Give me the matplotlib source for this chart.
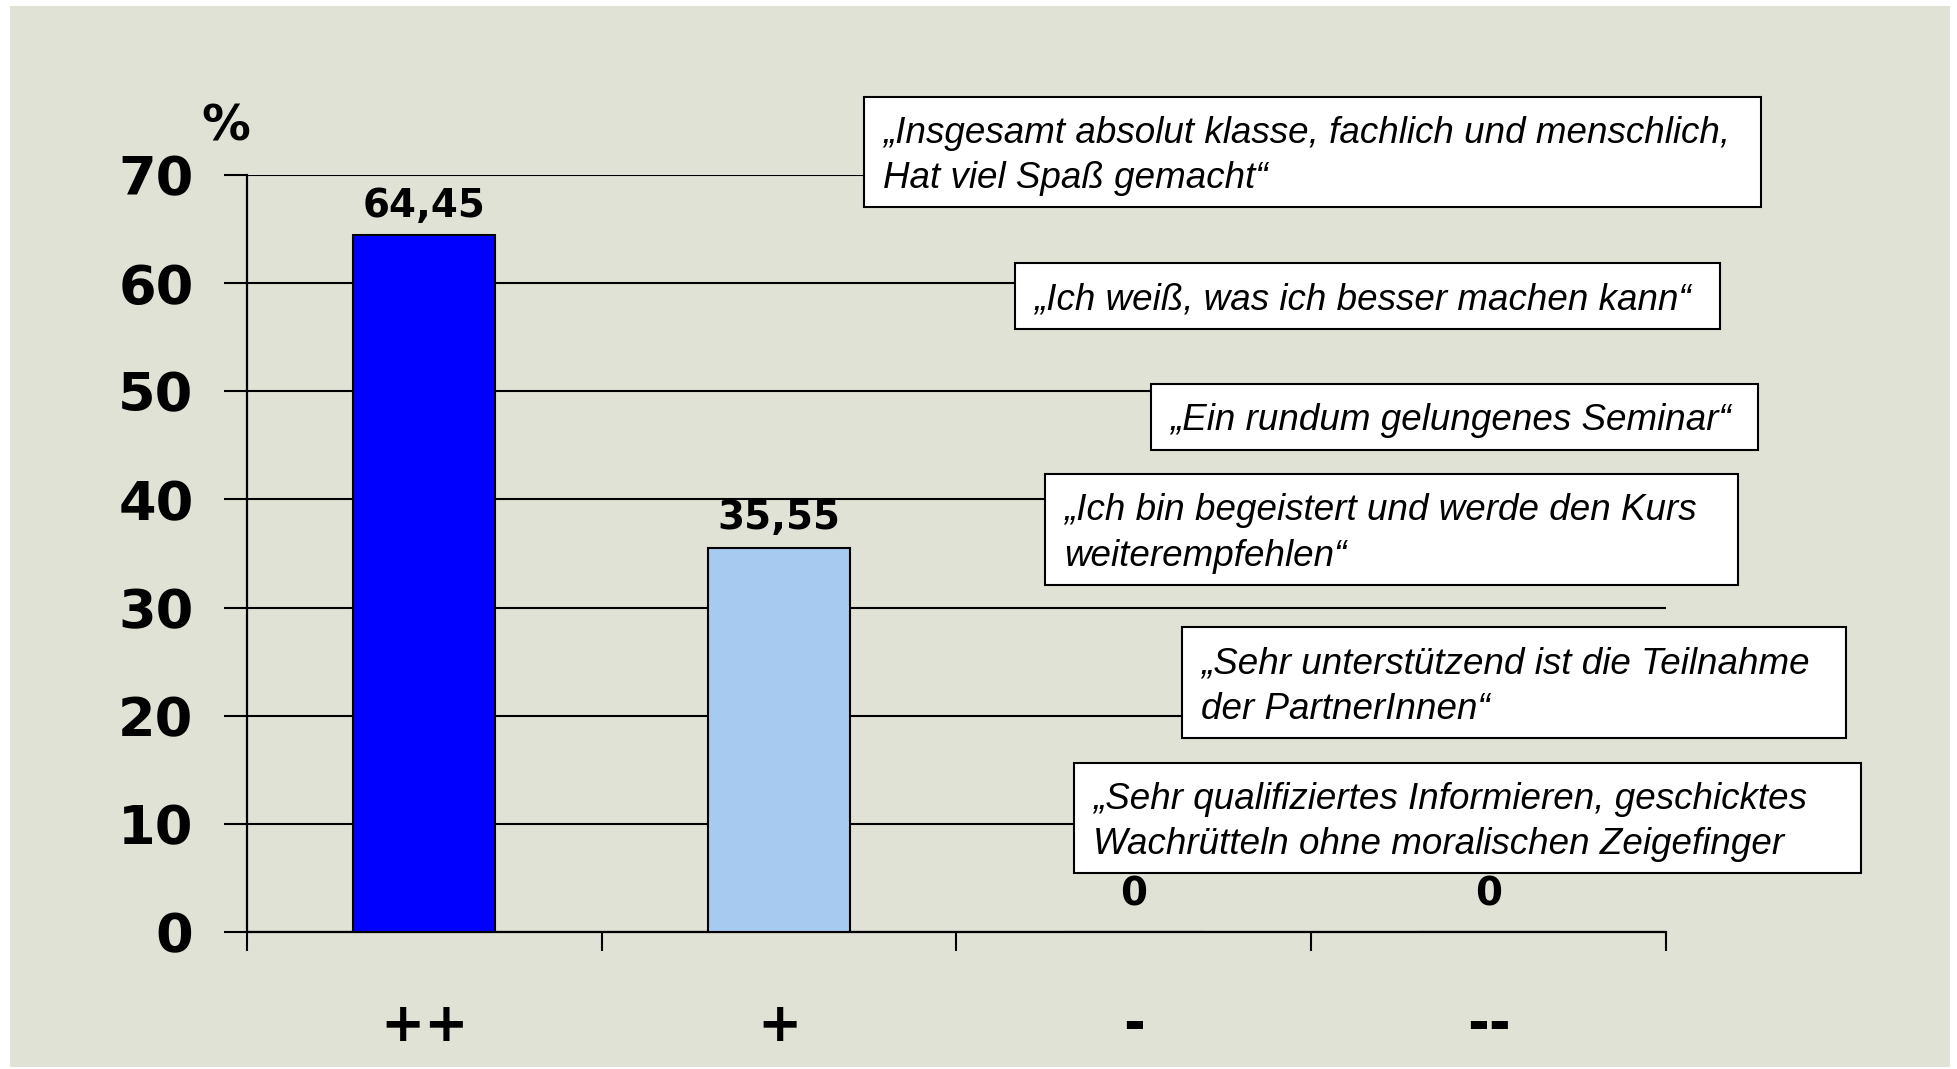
import matplotlib
matplotlib.use("Agg")
import matplotlib.pyplot as plt
from matplotlib.patches import Rectangle
from matplotlib.ticker import FixedLocator

# ---- data ----
categories = ["++", "+", "-", "--"]
values = [64.45, 35.55, 0, 0]
value_labels = ["64,45", "35,55", "0", "0"]
bar_colors = ["#0000FF", "#A6CAF0", "#A6CAF0", "#A6CAF0"]
y_ticks = [0, 10, 20, 30, 40, 50, 60, 70]
unit_label = "%"

quotes = [
    "\u201eInsgesamt absolut klasse, fachlich und menschlich,\nHat viel Spa\u00df gemacht\u201c",
    "\u201eIch wei\u00df, was ich besser machen kann\u201c",
    "\u201eEin rundum gelungenes Seminar\u201c",
    "\u201eIch bin begeistert und werde den Kurs\nweiterempfehlen\u201c",
    "\u201eSehr unterst\u00fctzend ist die Teilnahme\nder PartnerInnen\u201c",
    "\u201eSehr qualifiziertes Informieren, geschicktes\nWachr\u00fctteln ohne moralischen Zeigefinger",
]
# box layout in pixels: left, top, right, bottom
quote_boxes = [
    (864, 97, 1761, 207),
    (1015, 263, 1720, 329),
    (1151, 384, 1758, 450),
    (1045, 474, 1738, 585),
    (1182, 627, 1846, 738),
    (1074, 763, 1861, 873),
]

W, H = 1957, 1069
DPI = 100
fig = plt.figure(figsize=(W / DPI, H / DPI), dpi=DPI, facecolor="white")

def fx(px):
    return px / W

def fy(py):
    return 1 - py / H

# background panel
fig.patches.append(Rectangle((fx(10), fy(1067)), fx(1950) - fx(10), fy(6) - fy(1067),
                             transform=fig.transFigure, facecolor="#E0E2D6",
                             edgecolor="none", zorder=-10))

ax_left, ax_right, ax_top, ax_bottom = 247, 1666, 175, 932
ax = fig.add_axes([fx(ax_left), fy(ax_bottom), fx(ax_right) - fx(ax_left), fy(ax_top) - fy(ax_bottom)])
ax.patch.set_visible(False)

x = list(range(len(categories)))
bars = ax.bar(x, values, width=0.40, color=bar_colors, edgecolor="black", linewidth=1.5, zorder=3)

ax.set_xlim(-0.5, len(categories) - 0.5)
ax.set_ylim(0, 70)

for s in ["top", "right"]:
    ax.spines[s].set_visible(False)
for s in ["left", "bottom"]:
    ax.spines[s].set_linewidth(1.6)
    ax.spines[s].set_color("black")

ax.set_yticks(y_ticks)
ax.set_yticklabels([str(v) for v in y_ticks], fontsize=39, fontweight="heavy", family="DejaVu Sans")
ax.tick_params(axis="y", direction="out", length=16.5, width=1.5, pad=22)
ax.yaxis.grid(True, color="black", linewidth=1.5)
ax.set_axisbelow(True)

ax.set_xticks(x)
ax.set_xticklabels(categories, fontsize=38, fontweight="heavy", family="DejaVu Sans")
ax.tick_params(axis="x", which="major", length=0, pad=49)
ax.xaxis.set_minor_locator(FixedLocator([i - 0.5 for i in range(len(categories) + 1)]))
ax.tick_params(axis="x", which="minor", direction="out", length=13.7, width=1.5)

for xi, v, lab in zip(x, values, value_labels):
    ax.annotate(lab, (xi, v), xytext=(0, 13 if v > 0 else 19), textcoords="offset points",
                ha="center", va="baseline", fontsize=28, fontweight="bold",
                family="DejaVu Sans", zorder=4)

fig.text(fx(226), fy(126), unit_label, ha="center", va="center", fontsize=35,
         fontweight="bold", family="DejaVu Sans")

for q, (l, t, r, b) in zip(quotes, quote_boxes):
    fig.patches.append(Rectangle((fx(l), fy(b)), fx(r) - fx(l), fy(t) - fy(b),
                                 transform=fig.transFigure, facecolor="white",
                                 edgecolor="black", linewidth=1.5, zorder=5))
    fig.text(fx(l + 19), fy((t + b) / 2 + 4), q, ha="left", va="center", fontsize=26.5,
             style="italic", family="Liberation Sans", linespacing=1.4, zorder=6)

fig.savefig("out.png", dpi=DPI, facecolor="white")
